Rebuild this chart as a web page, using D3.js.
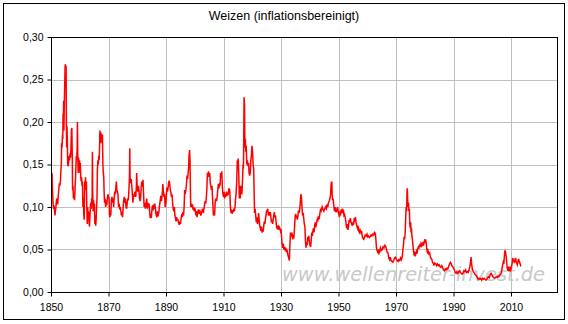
<!DOCTYPE html>
<html>
<head>
<meta charset="utf-8">
<script src="https://cdn.jsdelivr.net/npm/d3@7"></script>
<style>
  html, body { margin: 0; padding: 0; background: #fff; }
  svg { display: block; }
</style>
</head>
<body>
<svg id="chart" width="568" height="324"></svg>
<script>
// Chart text
const chartTitle = "Weizen (inflationsbereinigt)";
const watermark = "www.wellenreiter-invest.de";

// Axis ticks
const xTicks = [1850, 1870, 1890, 1910, 1930, 1950, 1970, 1990, 2010];
const yTicks = [0, 0.05, 0.10, 0.15, 0.20, 0.25, 0.30];

// Wheat price, inflation-adjusted: [year, price]
const wheat1850 = [
  [1850.0,0.128],[1850.1,0.143],[1850.2,0.13],[1850.35,0.14],[1850.5,0.12],[1850.7,0.105],[1850.85,0.098],
  [1851.0,0.102],[1851.2,0.097],[1851.4,0.09],[1851.5,0.095],[1851.7,0.1],[1851.9,0.108],[1852.1,0.11],
  [1852.3,0.103],[1852.5,0.112],[1852.7,0.12],[1852.9,0.128],[1853.1,0.125],[1853.3,0.132],[1853.45,0.143],
  [1853.6,0.15],[1853.7,0.175],[1853.85,0.17],[1854.0,0.185],[1854.1,0.18],[1854.2,0.21],[1854.3,0.2],
  [1854.4,0.225],[1854.5,0.19],[1854.6,0.215],[1854.75,0.24],[1854.9,0.265],[1855.0,0.268],[1855.15,0.26],
  [1855.25,0.266],[1855.35,0.2],[1855.45,0.17],[1855.55,0.195],[1855.7,0.175],[1855.8,0.15],[1855.95,0.148],
  [1856.1,0.152],[1856.3,0.16],[1856.45,0.155],[1856.6,0.163],[1856.8,0.158],[1856.95,0.17],[1857.1,0.19],
  [1857.25,0.193],[1857.4,0.16],[1857.5,0.12],[1857.65,0.125],[1857.8,0.11],[1858.0,0.115],[1858.2,0.108],
  [1858.4,0.125],[1858.6,0.14],[1858.8,0.16],[1858.95,0.155],[1859.1,0.17],[1859.2,0.2],[1859.3,0.165],
  [1859.45,0.14],[1859.6,0.158],[1859.75,0.145],[1859.9,0.155],[1860.05,0.14],[1860.2,0.152],[1860.35,0.135],
  [1860.5,0.13],[1860.65,0.135],[1860.8,0.125],[1860.95,0.13],[1861.1,0.1],[1861.25,0.11],[1861.4,0.092],
  [1861.55,0.085],[1861.7,0.13],[1861.85,0.125],[1862.0,0.135],[1862.15,0.12],[1862.3,0.13],[1862.45,0.1],
  [1862.6,0.08],[1862.75,0.1],[1862.9,0.085],[1863.05,0.095],[1863.2,0.082],[1863.4,0.077],[1863.55,0.09],
  [1863.7,0.1],[1863.85,0.105],[1864.0,0.098],[1864.15,0.11],[1864.3,0.105],[1864.4,0.165],[1864.5,0.12],
  [1864.65,0.095],[1864.8,0.108],[1864.95,0.098],[1865.1,0.104],[1865.25,0.08],[1865.4,0.09],[1865.55,0.078],
  [1865.7,0.085],[1865.85,0.1],[1866.0,0.11],[1866.15,0.145],[1866.3,0.155],[1866.45,0.15],[1866.6,0.16],
  [1866.75,0.155],[1866.9,0.17],[1867.0,0.19],[1867.15,0.175],[1867.3,0.188],[1867.45,0.18],[1867.6,0.186],
  [1867.75,0.175],[1867.9,0.185],[1868.05,0.15],[1868.2,0.14],[1868.35,0.135],[1868.5,0.115],[1868.65,0.105],
  [1868.8,0.11],[1869.0,0.1],[1869.2,0.108],[1869.4,0.102],[1869.6,0.11],[1869.8,0.115],[1870.0,0.112],
  [1870.2,0.11],[1870.35,0.09],[1870.5,0.088],[1870.65,0.095],[1870.8,0.09],[1871.0,0.108],[1871.2,0.112],
  [1871.4,0.105],[1871.6,0.11],[1871.8,0.1],[1872.0,0.112],[1872.2,0.118],[1872.4,0.115],[1872.6,0.125],
  [1872.75,0.13],[1872.9,0.12],[1873.1,0.118],[1873.3,0.115],[1873.5,0.1],[1873.7,0.104],[1873.9,0.097],
  [1874.1,0.1],[1874.3,0.095],[1874.5,0.09],[1874.7,0.094],[1874.9,0.088],[1875.1,0.1],[1875.3,0.108],
  [1875.5,0.112],[1875.7,0.105],[1875.9,0.11],[1876.1,0.1],[1876.3,0.098],[1876.5,0.105],[1876.7,0.11],
  [1876.9,0.108],[1877.1,0.12],[1877.3,0.135],[1877.4,0.169],[1877.5,0.135],[1877.7,0.128],[1877.9,0.133],
  [1878.1,0.125],[1878.3,0.115],[1878.5,0.105],[1878.7,0.115]
];

const wheat1879 = [
  [1878.9,0.112],[1879.2,0.118],[1879.5,0.112],[1879.7,0.125],[1879.8,0.14],[1880.0,0.122],[1880.2,0.118],
  [1880.4,0.125],[1880.6,0.12],[1880.8,0.11],[1881.0,0.107],[1881.2,0.112],[1881.4,0.125],[1881.6,0.13],
  [1881.8,0.124],[1882.0,0.132],[1882.2,0.115],[1882.4,0.1],[1882.6,0.105],[1882.8,0.098],[1883.0,0.102],
  [1883.3,0.11],[1883.5,0.098],[1883.7,0.105],[1883.9,0.1],[1884.1,0.104],[1884.3,0.095],[1884.5,0.087],
  [1884.7,0.092],[1884.9,0.087],[1885.1,0.097],[1885.3,0.102],[1885.5,0.096],[1885.7,0.103],[1885.9,0.098],
  [1886.1,0.104],[1886.3,0.099],[1886.5,0.092],[1886.8,0.088],[1887.0,0.095],[1887.2,0.089],[1887.5,0.093],
  [1887.7,0.1],[1888.0,0.108],[1888.2,0.113],[1888.4,0.107],[1888.6,0.112],[1888.8,0.12],[1888.9,0.127],
  [1889.1,0.118],[1889.3,0.112],[1889.5,0.115],[1889.7,0.1],[1889.9,0.103],[1890.1,0.112],[1890.3,0.123],
  [1890.5,0.118],[1890.7,0.122],[1890.9,0.128],[1891.1,0.131],[1891.3,0.127],[1891.5,0.12],[1891.7,0.117],
  [1891.9,0.112],[1892.1,0.115],[1892.3,0.105],[1892.5,0.098],[1892.7,0.095],[1892.9,0.1],[1893.1,0.09],
  [1893.3,0.087],[1893.5,0.083],[1893.7,0.088],[1893.9,0.084],[1894.1,0.086],[1894.3,0.082],[1894.6,0.079],
  [1894.8,0.083],[1895.0,0.08],[1895.2,0.085],[1895.5,0.092],[1895.7,0.088],[1895.9,0.094],[1896.1,0.09],
  [1896.3,0.1],[1896.5,0.12],[1896.7,0.115],[1896.9,0.12],[1897.1,0.125],[1897.3,0.137],[1897.5,0.133],
  [1897.7,0.14],[1897.9,0.148],[1898.0,0.16],[1898.2,0.167],[1898.35,0.155],[1898.5,0.12],[1898.6,0.1],
  [1898.8,0.104],[1899.0,0.1],[1899.2,0.103],[1899.4,0.097],[1899.6,0.1],[1899.8,0.095],[1900.0,0.099],
  [1900.2,0.096],[1900.4,0.09],[1900.6,0.095],[1900.8,0.088],[1901.0,0.094],[1901.3,0.097],[1901.5,0.092],
  [1901.8,0.095],[1902.1,0.09],[1902.4,0.094],[1902.7,0.098],[1903.0,0.093],[1903.3,0.1],[1903.6,0.107],
  [1903.8,0.104],[1904.0,0.11],[1904.2,0.12],[1904.4,0.14],[1904.6,0.136],[1904.8,0.142],[1905.0,0.135],
  [1905.2,0.14],[1905.4,0.128],[1905.6,0.125],[1905.8,0.12],[1906.0,0.125],[1906.2,0.11],[1906.5,0.09],
  [1906.7,0.094],[1906.9,0.09],[1907.1,0.105],[1907.3,0.11],[1907.6,0.107],[1907.8,0.112],[1908.0,0.12],
  [1908.2,0.127],[1908.4,0.122],[1908.6,0.128],[1908.8,0.125],[1909.0,0.14],[1909.2,0.135],[1909.4,0.142],
  [1909.6,0.125],[1909.8,0.115]
];

const wheat1910 = [
  [1910.0,0.112],[1910.2,0.118],[1910.4,0.11],[1910.6,0.115],[1910.8,0.112],[1911.0,0.118],[1911.2,0.113],
  [1911.4,0.117],[1911.6,0.114],[1911.8,0.12],[1912.0,0.122],[1912.2,0.118],[1912.4,0.1],[1912.6,0.093],
  [1912.8,0.097],[1913.0,0.092],[1913.2,0.096],[1913.4,0.094],[1913.6,0.098],[1913.8,0.095],[1914.0,0.1],
  [1914.2,0.11],[1914.4,0.117],[1914.6,0.13],[1914.8,0.155],[1915.0,0.15],[1915.1,0.157],[1915.3,0.14],
  [1915.5,0.11],[1915.6,0.125],[1915.8,0.11],[1916.0,0.12],[1916.2,0.125],[1916.4,0.115],[1916.6,0.13],
  [1916.8,0.15],[1916.9,0.145],[1917.0,0.16],[1917.15,0.229],[1917.3,0.22],[1917.45,0.17],[1917.6,0.18],
  [1917.75,0.165],[1917.9,0.172],[1918.1,0.15],[1918.3,0.155],[1918.5,0.148],[1918.7,0.152],[1918.9,0.14],
  [1919.1,0.137],[1919.3,0.14],[1919.5,0.155],[1919.7,0.16],[1919.9,0.172],[1920.1,0.165],[1920.3,0.15],
  [1920.5,0.145],[1920.7,0.11],[1920.8,0.093],[1921.0,0.098],[1921.2,0.09],[1921.4,0.082],[1921.6,0.088],
  [1921.8,0.08],[1922.0,0.083],[1922.2,0.093],[1922.4,0.085],[1922.6,0.078],[1922.8,0.075],[1923.0,0.072],
  [1923.2,0.077],[1923.4,0.07],[1923.6,0.074],[1923.8,0.071],[1924.0,0.078],[1924.2,0.083],[1924.4,0.08],
  [1924.6,0.086],[1924.8,0.09],[1925.0,0.096],[1925.2,0.094],[1925.4,0.098],[1925.6,0.09],[1925.8,0.094],
  [1926.0,0.09],[1926.3,0.094],[1926.5,0.087],[1926.7,0.082],[1926.9,0.085],[1927.1,0.08],[1927.3,0.086],
  [1927.5,0.09],[1927.7,0.094],[1927.9,0.088],[1928.1,0.09],[1928.3,0.082],[1928.5,0.076],[1928.7,0.074],
  [1928.9,0.078],[1929.1,0.073],[1929.3,0.077],[1929.6,0.075],[1929.8,0.072],[1930.0,0.074],[1930.2,0.065],
  [1930.4,0.056],[1930.6,0.052],[1930.8,0.057],[1931.0,0.05],[1931.3,0.053],[1931.5,0.048],[1931.7,0.052],
  [1931.9,0.047],[1932.1,0.05],[1932.3,0.045],[1932.5,0.042],[1932.7,0.04],[1932.9,0.037],[1933.1,0.055],
  [1933.3,0.07],[1933.5,0.065],[1933.7,0.07],[1933.9,0.066],[1934.1,0.062],[1934.3,0.066],[1934.5,0.065],
  [1934.7,0.075],[1934.9,0.088],[1935.1,0.092],[1935.3,0.087],[1935.5,0.09],[1935.7,0.085],[1935.9,0.09],
  [1936.1,0.096],[1936.3,0.093],[1936.5,0.097],[1936.7,0.105],[1936.9,0.115],[1937.1,0.112],[1937.3,0.1],
  [1937.5,0.09],[1937.7,0.093],[1937.9,0.087],[1938.1,0.08],[1938.3,0.078],[1938.5,0.06],[1938.7,0.052],
  [1938.9,0.058],[1939.1,0.055],[1939.3,0.065],[1939.5,0.06],[1939.7,0.066],[1939.9,0.058]
];

const wheat1940 = [
  [1940.1,0.055],[1940.3,0.053],[1940.5,0.06],[1940.7,0.07],[1940.9,0.066],[1941.1,0.072],[1941.3,0.075],
  [1941.5,0.07],[1941.7,0.078],[1941.9,0.082],[1942.1,0.076],[1942.3,0.08],[1942.6,0.085],[1942.8,0.083],
  [1943.0,0.088],[1943.3,0.087],[1943.6,0.094],[1943.8,0.098],[1944.0,0.096],[1944.3,0.1],[1944.6,0.097],
  [1944.9,0.095],[1945.2,0.098],[1945.5,0.1],[1945.8,0.098],[1946.0,0.103],[1946.3,0.1],[1946.5,0.105],
  [1946.8,0.107],[1947.0,0.11],[1947.2,0.113],[1947.4,0.125],[1947.55,0.13],[1947.7,0.128],[1947.8,0.115],
  [1947.95,0.108],[1948.1,0.11],[1948.3,0.104],[1948.6,0.095],[1948.8,0.1],[1949.0,0.094],[1949.2,0.098],
  [1949.4,0.096],[1949.7,0.1],[1949.9,0.094],[1950.1,0.092],[1950.3,0.088],[1950.5,0.095],[1950.7,0.09],
  [1950.9,0.097],[1951.1,0.093],[1951.3,0.098],[1951.5,0.095],[1951.7,0.097],[1951.9,0.09],[1952.1,0.091],
  [1952.3,0.088],[1952.5,0.085],[1952.7,0.078],[1952.9,0.075],[1953.1,0.08],[1953.3,0.073],[1953.5,0.078],
  [1953.7,0.085],[1953.9,0.082],[1954.1,0.087],[1954.3,0.083],[1954.6,0.08],[1954.8,0.078],[1955.0,0.082],
  [1955.2,0.079],[1955.5,0.087],[1955.7,0.085],[1955.9,0.088],[1956.1,0.082],[1956.4,0.077],[1956.6,0.075],
  [1956.8,0.078],[1957.0,0.072],[1957.3,0.07],[1957.5,0.073],[1957.8,0.07],[1958.0,0.072],[1958.3,0.065],
  [1958.5,0.063],[1958.8,0.062],[1959.0,0.064],[1959.3,0.067],[1959.6,0.066],[1959.9,0.068],[1960.1,0.065],
  [1960.4,0.066],[1960.7,0.064],[1961.0,0.065],[1961.3,0.067],[1961.6,0.066],[1961.9,0.068],[1962.2,0.067],
  [1962.5,0.07],[1962.8,0.069],[1963.0,0.062],[1963.2,0.052],[1963.5,0.048],[1963.8,0.046],[1964.0,0.05],
  [1964.3,0.047],[1964.6,0.052],[1964.9,0.049],[1965.2,0.05],[1965.5,0.053],[1965.8,0.052],[1966.1,0.055],
  [1966.4,0.054],[1966.7,0.05],[1966.9,0.047],[1967.2,0.046],[1967.5,0.04],[1967.8,0.038],[1968.0,0.041],
  [1968.3,0.037],[1968.6,0.036],[1968.9,0.035],[1969.2,0.037],[1969.5,0.04],[1969.8,0.041]
];

const wheat1970 = [
  [1970.1,0.039],[1970.4,0.037],[1970.7,0.036],[1971.0,0.038],[1971.3,0.037],[1971.6,0.04],[1971.9,0.038],
  [1972.2,0.042],[1972.4,0.05],[1972.6,0.055],[1972.8,0.065],[1973.0,0.062],[1973.2,0.07],[1973.4,0.09],
  [1973.55,0.1],[1973.7,0.095],[1973.85,0.12],[1973.95,0.122],[1974.05,0.108],[1974.2,0.1],[1974.35,0.105],
  [1974.5,0.095],[1974.65,0.098],[1974.8,0.08],[1974.95,0.075],[1975.1,0.082],[1975.25,0.07],[1975.4,0.075],
  [1975.55,0.065],[1975.7,0.062],[1975.9,0.055],[1976.1,0.048],[1976.3,0.043],[1976.5,0.045],[1976.7,0.042],
  [1976.9,0.046],[1977.1,0.048],[1977.3,0.045],[1977.5,0.05],[1977.8,0.053],[1978.0,0.052],[1978.2,0.055],
  [1978.5,0.054],[1978.7,0.057],[1978.9,0.055],[1979.1,0.058],[1979.3,0.054],[1979.5,0.059],[1979.7,0.057],
  [1979.9,0.06],[1980.1,0.058],[1980.3,0.062],[1980.5,0.058],[1980.7,0.05],[1980.9,0.047],[1981.1,0.049],
  [1981.4,0.045],[1981.7,0.046],[1981.9,0.042],[1982.1,0.04],[1982.4,0.039],[1982.7,0.035],[1982.9,0.034],
  [1983.2,0.032],[1983.5,0.034],[1983.8,0.033],[1984.1,0.031],[1984.4,0.033],[1984.7,0.031],[1985.0,0.032],
  [1985.3,0.03],[1985.6,0.029],[1985.9,0.031],[1986.2,0.029],[1986.5,0.026],[1986.8,0.025],[1987.1,0.027],
  [1987.4,0.026],[1987.7,0.028],[1988.0,0.027],[1988.3,0.03],[1988.6,0.033],[1988.9,0.035],[1989.1,0.034],
  [1989.4,0.031],[1989.7,0.03]
];

const wheat1990 = [
  [1990.0,0.028],[1990.3,0.026],[1990.6,0.023],[1990.9,0.022],[1991.2,0.024],[1991.5,0.022],[1991.8,0.024],
  [1992.1,0.025],[1992.4,0.023],[1992.7,0.022],[1993.0,0.021],[1993.3,0.022],[1993.6,0.025],[1993.9,0.024],
  [1994.2,0.026],[1994.5,0.023],[1994.8,0.024],[1995.1,0.023],[1995.4,0.026],[1995.7,0.03],[1995.9,0.034],
  [1996.1,0.041],[1996.3,0.033],[1996.6,0.026],[1996.9,0.024],[1997.1,0.023],[1997.4,0.021],[1997.7,0.02],
  [1998.0,0.019],[1998.3,0.017],[1998.6,0.015],[1998.9,0.016],[1999.2,0.015],[1999.5,0.016],[1999.8,0.014],
  [2000.1,0.016],[2000.4,0.015],[2000.7,0.016],[2001.0,0.015],[2001.3,0.014],[2001.6,0.015],[2001.9,0.017],
  [2002.2,0.018],[2002.5,0.017],[2002.8,0.021],[2003.1,0.022],[2003.4,0.02],[2003.7,0.018],[2004.0,0.017],
  [2004.3,0.016],[2004.6,0.017],[2004.9,0.018],[2005.2,0.017],[2005.5,0.019],[2005.8,0.018],[2006.1,0.02],
  [2006.4,0.021],[2006.7,0.023],[2006.9,0.028],[2007.1,0.032],[2007.3,0.035],[2007.5,0.033],[2007.7,0.042],
  [2007.9,0.049],[2008.1,0.047],[2008.3,0.042],[2008.5,0.035],[2008.7,0.028],[2008.9,0.025],[2009.1,0.03],
  [2009.3,0.026],[2009.6,0.028],[2009.8,0.024],[2010.0,0.027],[2010.2,0.03],[2010.4,0.034],[2010.6,0.04],
  [2010.8,0.036],[2011.0,0.038],[2011.2,0.034],[2011.4,0.038],[2011.6,0.04],[2011.8,0.036],[2012.0,0.034],
  [2012.2,0.032],[2012.4,0.035],[2012.6,0.039],[2012.8,0.037],[2013.0,0.035],[2013.2,0.033],[2013.4,0.03]
];

const wheat = [].concat(wheat1850, wheat1879, wheat1910, wheat1940, wheat1970, wheat1990);

// Layout
const W = 568, H = 324;
const plot = { left: 51, right: 557, top: 37, bottom: 292 };
const font = "'Liberation Sans', Arial, sans-serif";

const svg = d3.select("#chart");

svg.append("rect")
  .attr("x", 0).attr("y", 0).attr("width", W).attr("height", H)
  .attr("fill", "#fff");

// Outer frame
svg.append("rect")
  .attr("x", 3.5).attr("y", 3.5).attr("width", W - 7).attr("height", H - 8)
  .attr("fill", "none").attr("stroke", "#000").attr("stroke-width", 1);

const x = d3.scaleLinear().domain([1850, 2026]).range([plot.left, plot.right]);
const y = d3.scaleLinear().domain([0, 0.30]).range([plot.bottom, plot.top]);

const snap = v => Math.round(v) + 0.5;

// Gridlines
const grid = svg.append("g").attr("stroke", "#c0c0c0").attr("stroke-width", 1);
grid.selectAll("line.h").data(yTicks.slice(1, -1)).join("line")
  .attr("x1", plot.left).attr("x2", plot.right)
  .attr("y1", d => snap(y(d))).attr("y2", d => snap(y(d)));
grid.selectAll("line.v").data(xTicks.slice(1)).join("line")
  .attr("y1", plot.top).attr("y2", plot.bottom)
  .attr("x1", d => snap(x(d))).attr("x2", d => snap(x(d)));

// Watermark
svg.append("text")
  .attr("x", 282).attr("y", 281)
  .attr("font-family", "'DejaVu Sans', Verdana, sans-serif")
  .attr("font-style", "italic")
  .attr("font-size", 19)
  .attr("fill", "#c8c8c8")
  .attr("textLength", 263)
  .attr("lengthAdjust", "spacingAndGlyphs")
  .text(watermark);

// Price line
svg.append("clipPath").attr("id", "plotClip")
  .append("rect")
  .attr("x", plot.left).attr("y", plot.top)
  .attr("width", plot.right - plot.left).attr("height", plot.bottom - plot.top);

const line = d3.line().x(d => x(d[0])).y(d => y(d[1]));
svg.append("path")
  .datum(wheat)
  .attr("clip-path", "url(#plotClip)")
  .attr("fill", "none")
  .attr("stroke", "#ff0000")
  .attr("stroke-width", 1.5)
  .attr("stroke-linejoin", "miter")
  .attr("d", line);

// Plot frame
svg.append("rect")
  .attr("x", plot.left + 0.5).attr("y", plot.top + 0.5)
  .attr("width", plot.right - plot.left).attr("height", plot.bottom - plot.top)
  .attr("fill", "none").attr("stroke", "#000").attr("stroke-width", 1);

// Axes
const de = d3.formatLocale({ decimal: ",", thousands: ".", grouping: [3], currency: ["", " €"] });

const xAxis = d3.axisBottom(x).tickValues(xTicks).tickFormat(d3.format("d"))
  .tickSize(4).tickPadding(7);
const yAxis = d3.axisLeft(y).tickValues(yTicks).tickFormat(de.format(".2f"))
  .tickSize(4).tickPadding(4);

const gx = svg.append("g").attr("transform", `translate(0,${plot.bottom + 0.5})`).call(xAxis);
const gy = svg.append("g").attr("transform", `translate(${plot.left + 0.5},0)`).call(yAxis);

[gx, gy].forEach(g => {
  g.select(".domain").remove();
  g.selectAll(".tick line").attr("stroke", "#000");
  g.selectAll(".tick text")
    .attr("fill", "#000")
    .attr("font-family", font)
    .attr("font-size", 10.5);
});

// Title
svg.append("text")
  .attr("x", W / 2).attr("y", 20)
  .attr("text-anchor", "middle")
  .attr("font-family", font)
  .attr("font-size", 12.5)
  .attr("fill", "#000")
  .text(chartTitle);
</script>
</body>
</html>
